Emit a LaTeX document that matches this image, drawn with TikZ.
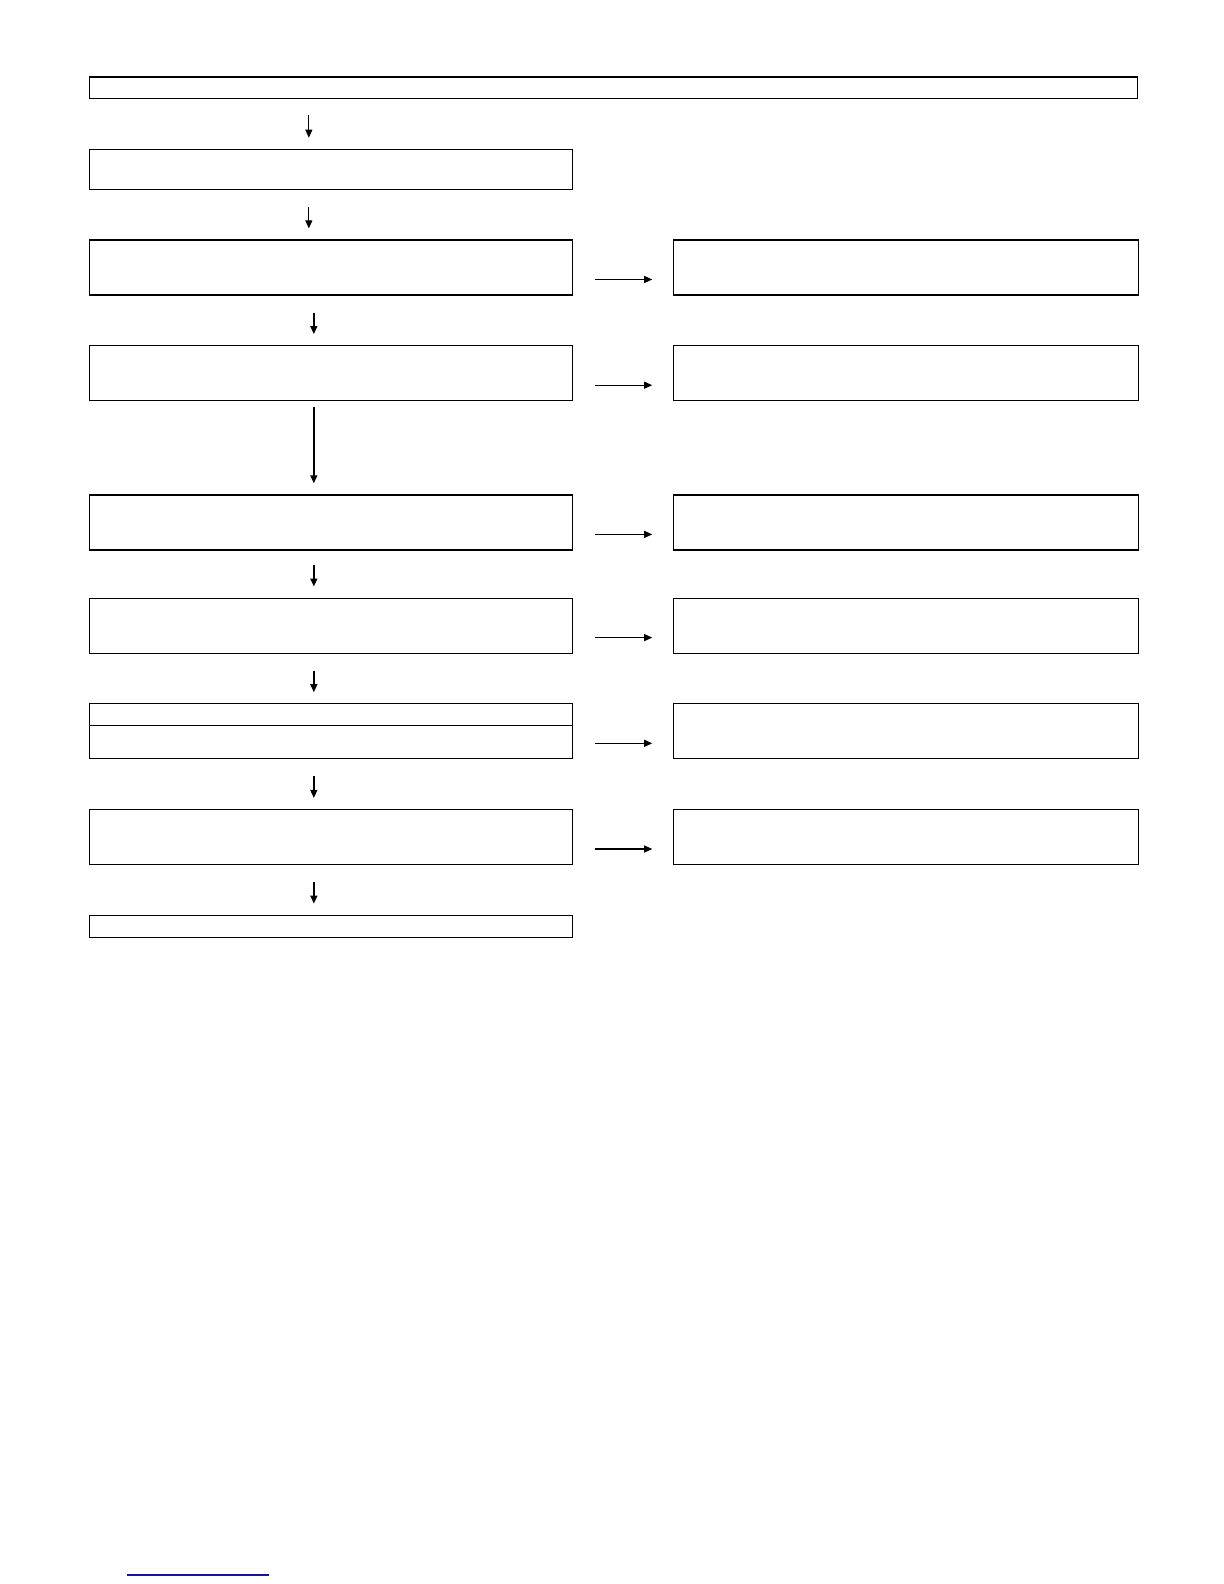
\documentclass[tikz,border=0pt]{standalone}
\usetikzlibrary{arrows.meta, positioning}
\usepackage{xcolor}
\definecolor{linkblue}{RGB}{20,20,160}

\begin{document}
\begin{tikzpicture}[x=0.5pt, y=-0.5pt, node distance=24.75pt,
procbox/.style={
    rectangle,
    draw=black,
    line width=0.6pt,
    inner sep=0pt,
    minimum width=241.75pt,
    minimum height=27.5pt
},
notebox/.style={procbox, minimum width=232.5pt},
flow/.style={->, line width=0.7pt, shorten <=8.5pt, shorten >=5.5pt},
side/.style={->, line width=0.55pt, shorten <=11pt, shorten >=10.5pt},
>={Triangle[length=4pt, width=3.5pt]}]

  \useasboundingbox (0,0) rectangle (1224,1584);

  % main column
  \node (start) [procbox, minimum width=524.25pt, minimum height=10.75pt, anchor=north west] at (88.5,76.5) {};
  \node (step1) [procbox, minimum height=20pt, below=of start.south west, anchor=north west] {};
  \node (step2) [procbox, below=of step1.south west, anchor=north west] {};
  \node (step3) [procbox, below=of step2.south west, anchor=north west] {};
  \node (step4) [procbox, below=46.5pt of step3.south west, anchor=north west] {};
  \node (step5) [procbox, below=23.5pt of step4.south west, anchor=north west] {};
  \node (step6) [procbox, below=of step5.south west, anchor=north west] {};
  \node (step7) [procbox, below=of step6.south west, anchor=north west] {};
  \node (finish) [procbox, minimum height=11pt, below=of step7.south west, anchor=north west] {};
  \draw[line width=0.6pt] ([yshift=-11pt]step6.north west) -- ([yshift=-11pt]step6.north east);

  % side column
  \node (note2) [notebox, right=50pt of step2] {};
  \node (note3) [notebox, right=50pt of step3] {};
  \node (note4) [notebox, right=50pt of step4] {};
  \node (note5) [notebox, right=50pt of step5] {};
  \node (note6) [notebox, right=50pt of step6] {};
  \node (note7) [notebox, right=50pt of step7] {};

  % down arrows
  \draw[flow, line width=0.5pt, shorten <=8pt] ([xshift=-11pt]step1.north |- start.south) -- ([xshift=-11pt]step1.north);
  \draw[flow, line width=0.5pt] ([xshift=-11pt]step1.south) -- ([xshift=-11pt]step2.north);
  \draw[flow] ([xshift=-8.5pt]step2.south) -- ([xshift=-8.5pt]step3.north);
  \draw[flow, shorten <=3pt] ([xshift=-8.5pt]step3.south) -- ([xshift=-8.5pt]step4.north);
  \draw[flow, shorten <=7pt] ([xshift=-8.5pt]step4.south) -- ([xshift=-8.5pt]step5.north);
  \draw[flow] ([xshift=-8.5pt]step5.south) -- ([xshift=-8.5pt]step6.north);
  \draw[flow] ([xshift=-8.5pt]step6.south) -- ([xshift=-8.5pt]step7.north);
  \draw[flow] ([xshift=-8.5pt]step7.south) -- ([xshift=-8.5pt]finish.north);

  % side arrows
  \draw[side] ([yshift=-6pt]step2.east) -- ([yshift=-6pt]note2.west);
  \draw[side] ([yshift=-6pt]step3.east) -- ([yshift=-6pt]note3.west);
  \draw[side] ([yshift=-6pt]step4.east) -- ([yshift=-6pt]note4.west);
  \draw[side] ([yshift=-6pt]step5.east) -- ([yshift=-6pt]note5.west);
  \draw[side] ([yshift=-6pt]step6.east) -- ([yshift=-6pt]note6.west);
  \draw[side] ([yshift=-6pt]step7.east) -- ([yshift=-6pt]note7.west);

  \draw[linkblue, line width=0.6pt] (127,1575) -- (269,1575);

\end{tikzpicture}
\end{document}
